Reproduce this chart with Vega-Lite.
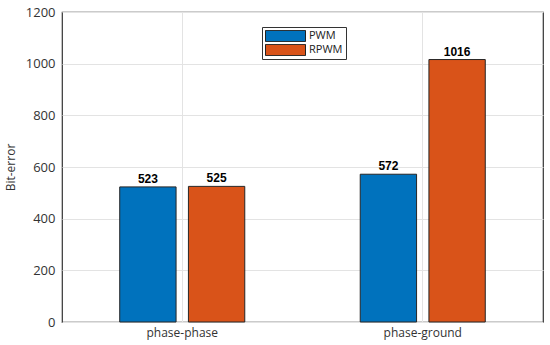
{
  "$schema": "https://vega.github.io/schema/vega-lite/v6.json",
  "width": 481,
  "height": 310,
  "autosize": {"type": "none"},
  "padding": {"left": 62, "top": 12, "right": 7, "bottom": 23},
  "background": "white",
  "data": {
    "values": [
      {"category": "phase-phase", "method": "PWM", "value": 523},
      {"category": "phase-phase", "method": "RPWM", "value": 525},
      {"category": "phase-ground", "method": "PWM", "value": 572},
      {"category": "phase-ground", "method": "RPWM", "value": 1016}
    ]
  },
  "encoding": {
    "x": {
      "field": "category",
      "type": "nominal",
      "sort": ["phase-phase", "phase-ground"],
      "scale": {"paddingInner": 0.48, "paddingOuter": 0.24},
      "axis": {
        "title": null,
        "labelAngle": 0,
        "grid": true,
        "gridColor": "#e3e3e3",
        "labelFont": "Open Sans",
        "labelFontSize": 12,
        "labelColor": "#333333",
        "labelPadding": 5,
        "tickSize": 0,
        "domain": false
      }
    },
    "xOffset": {
      "field": "method",
      "type": "nominal",
      "sort": ["PWM", "RPWM"],
      "scale": {"paddingInner": 0.18}
    },
    "y": {
      "field": "value",
      "type": "quantitative",
      "scale": {"domain": [0, 1200], "nice": false},
      "axis": {
        "title": "Bit-error",
        "format": "d",
        "values": [0, 200, 400, 600, 800, 1000, 1200],
        "grid": true,
        "gridColor": "#e3e3e3",
        "labelFont": "Open Sans",
        "labelFontSize": 13,
        "labelColor": "#333333",
        "labelPadding": 7,
        "tickSize": 0,
        "domain": false,
        "titleFont": "Open Sans",
        "titleFontSize": 12,
        "titleFontWeight": "normal",
        "titleColor": "#333333",
        "titlePadding": 8
      }
    }
  },
  "layer": [
    {
      "mark": {"type": "bar", "stroke": "#262626", "strokeWidth": 1},
      "encoding": {
        "color": {
          "field": "method",
          "type": "nominal",
          "sort": ["PWM", "RPWM"],
          "scale": {"domain": ["PWM", "RPWM"], "range": ["#0072BD", "#D95319"]},
          "legend": {
            "title": null,
            "orient": "none",
            "legendX": 200,
            "legendY": 15,
            "direction": "vertical",
            "strokeColor": "#333333",
            "fillColor": "white",
            "padding": 3,
            "symbolType": "M-1,-0.28L1,-0.28L1,0.28L-1,0.28Z",
            "symbolSize": 1600,
            "symbolStrokeColor": "#222222",
            "symbolStrokeWidth": 1,
            "symbolOpacity": 1,
            "clipHeight": 12,
            "labelFont": "Open Sans",
            "labelFontSize": 11,
            "labelColor": "#222222",
            "labelOffset": 3,
            "rowPadding": 2
          }
        }
      }
    },
    {
      "mark": {"type": "text", "baseline": "bottom", "dy": -1, "font": "Liberation Sans", "fontWeight": "bold", "fontSize": 12, "color": "black"},
      "encoding": {
        "text": {"field": "value", "type": "quantitative"}
      }
    }
  ],
  "config": {
    "view": {"stroke": "#333333", "strokeWidth": 1.2}
  }
}
